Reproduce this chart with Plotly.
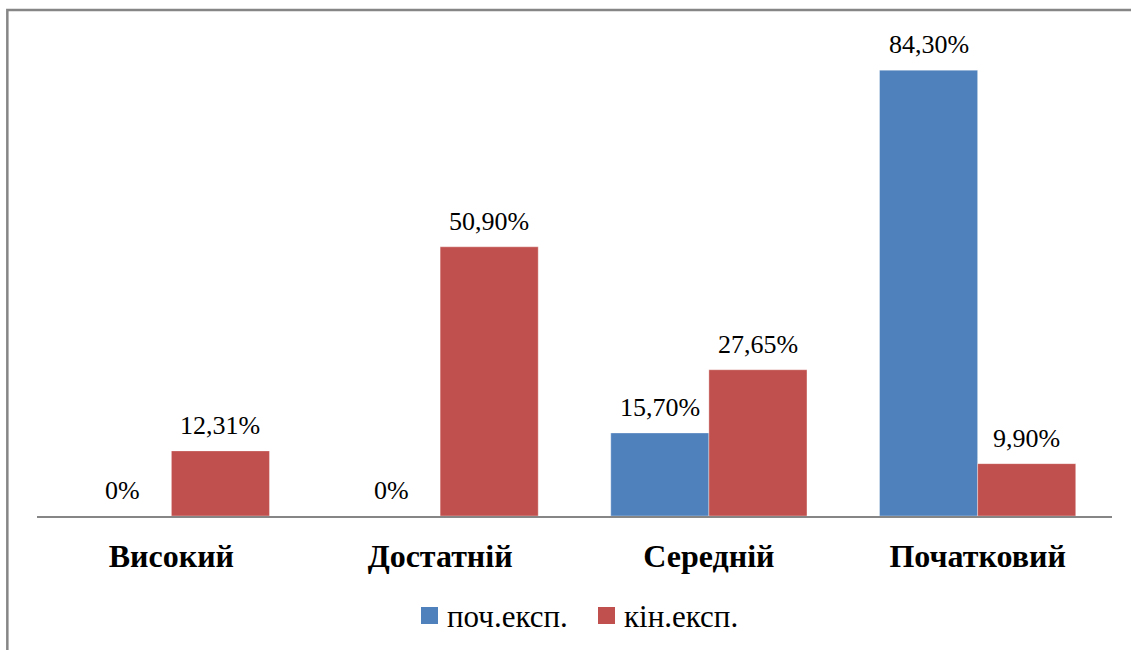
import plotly.graph_objects as go

categories = ["Високий", "Достатній", "Середній", "Початковий"]
series_names = ["поч.експ.", "кін.експ."]
start_values = [0, 0, 15.70, 84.30]
end_values = [12.31, 50.90, 27.65, 9.90]
colors = ["#4F81BD", "#C0504D"]

SERIF = "Liberation Serif"

# plot area in pixels (for placing the legend in paper coordinates)
W, H = 1131, 650
L, R, T, B = 37, 19, 40, 134
PW, PH = W - L - R, H - T - B


def px_x(px):
    return (px - L) / PW


def px_y(py):
    return (H - B - py) / PH


def fmt(v):
    if v == 0:
        return "0%"
    return f"{v:.2f}".replace(".", ",") + "%"


fig = go.Figure()
for name, vals, col in zip(series_names, [start_values, end_values], colors):
    fig.add_trace(go.Bar(
        x=categories, y=vals, name=name, showlegend=False,
        marker=dict(color=col, line=dict(color="rgba(255,255,255,0.35)", width=1)),
    ))

# value labels above each bar, shifted to the bar's slot within the group
annotations = []
for vals, shift in [(start_values, -49), (end_values, 49)]:
    for c, v in zip(categories, vals):
        annotations.append(dict(
            x=c, y=v, xref="x", yref="y", text=fmt(v), showarrow=False,
            xshift=shift, yanchor="bottom", yshift=9,
            font=dict(family=SERIF, size=26, color="#000000"),
        ))

# legend: coloured squares with series names
shapes = [dict(type="rect", xref="paper", yref="paper",
               x0=-0.0276, x1=1.05, y0=-0.4, y1=1.063,
               line=dict(color="#868686", width=2.5), layer="below")]
legend_x = [421, 598]
for name, col, lx in zip(series_names, colors, legend_x):
    shapes.append(dict(type="rect", xref="paper", yref="paper",
                       x0=px_x(lx), x1=px_x(lx + 17), y0=px_y(624), y1=px_y(607),
                       fillcolor=col, line=dict(width=0)))
    annotations.append(dict(x=px_x(lx + 24), y=px_y(616), xref="paper", yref="paper",
                            xanchor="left", yanchor="middle", text=name, showarrow=False,
                            font=dict(family=SERIF, size=31, color="#000000")))

fig.update_layout(
    width=W, height=H,
    barmode="group", bargap=0.27, bargroupgap=0,
    margin=dict(l=L, r=R, t=T, b=B),
    paper_bgcolor="white", plot_bgcolor="white",
    font=dict(family=SERIF, color="#000000"),
    showlegend=False,
    annotations=annotations,
    shapes=shapes,
)
fig.update_xaxes(showline=True, linecolor="#868686", linewidth=2, ticks="",
                 tickfont=dict(family=SERIF, size=32, color="#000000"),
                 ticklabelstandoff=11, showgrid=False,
                 tickvals=categories, ticktext=[f"<b>{c}</b>" for c in categories])
fig.update_yaxes(range=[0, 90], visible=False, showgrid=False, zeroline=False)

fig.write_html("out.html")
